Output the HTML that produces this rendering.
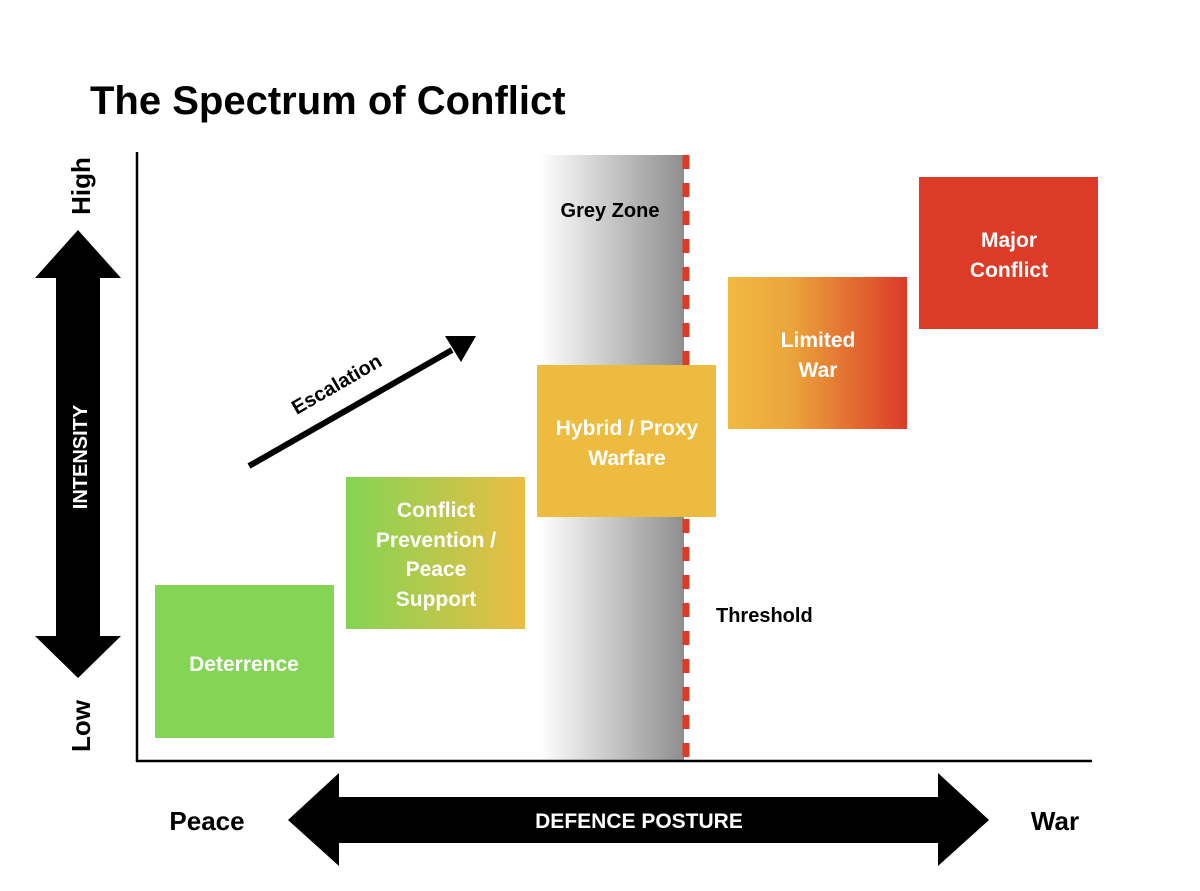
<!DOCTYPE html>
<html><head><meta charset="utf-8"><style>
html,body{margin:0;padding:0;background:#fff;}
svg{display:block;}
text{font-family:"Liberation Sans",Arial,sans-serif;font-weight:bold;}
</style></head><body>
<svg width="1200" height="891" viewBox="0 0 1200 891" xmlns="http://www.w3.org/2000/svg">
<defs>
<linearGradient id="grey" x1="0" x2="1" y1="0" y2="0">
<stop offset="0" stop-color="#ffffff"/><stop offset="1" stop-color="#8e8e8e"/></linearGradient>
<linearGradient id="g2" x1="0" x2="1" y1="0" y2="0">
<stop offset="0" stop-color="#84d455"/><stop offset="1" stop-color="#ebbd42"/></linearGradient>
<linearGradient id="g4" x1="0" x2="1" y1="0" y2="0">
<stop offset="0" stop-color="#f0ba40"/><stop offset="0.35" stop-color="#eba53c"/><stop offset="1" stop-color="#dc3a28"/></linearGradient>
</defs>
<rect width="1200" height="891" fill="#fff"/>
<text x="90" y="114" font-size="40" fill="#000">The Spectrum of Conflict</text>

<!-- grey zone -->
<rect x="540" y="155" width="144" height="605" fill="url(#grey)"/>
<line x1="686" y1="155" x2="686" y2="760" stroke="#dd3a2a" stroke-width="7" stroke-dasharray="14 14"/>
<text x="610" y="217" font-size="20" text-anchor="middle" fill="#000">Grey Zone</text>
<text x="716" y="622" font-size="20" fill="#000">Threshold</text>

<!-- axes -->
<line x1="137" y1="152" x2="137" y2="762" stroke="#000" stroke-width="2.5"/>
<line x1="136" y1="761" x2="1092" y2="761" stroke="#000" stroke-width="2.5"/>

<!-- vertical arrow -->
<polygon points="78,230 121,278 100,278 100,636 121,636 78,678 35,636 56,636 56,278 35,278" fill="#000"/>
<text transform="translate(87,457) rotate(-90)" font-size="20" fill="#fff" text-anchor="middle">INTENSITY</text>
<text transform="translate(90,186) rotate(-90)" font-size="26" fill="#000" text-anchor="middle">High</text>
<text transform="translate(90,726) rotate(-90)" font-size="26" fill="#000" text-anchor="middle">Low</text>

<!-- horizontal arrow -->
<polygon points="288,820 339,773 339,797 938,797 938,773 989,820 938,866 938,843 339,843 339,866" fill="#000"/>
<text x="639" y="828" font-size="21" fill="#fff" text-anchor="middle">DEFENCE POSTURE</text>
<text x="207" y="830" font-size="26" fill="#000" text-anchor="middle">Peace</text>
<text x="1055" y="830" font-size="26" fill="#000" text-anchor="middle">War</text>

<!-- escalation arrow -->
<line x1="249" y1="466" x2="452" y2="350" stroke="#000" stroke-width="6"/>
<polygon points="476,336 445,336 461,362" fill="#000"/>
<text transform="translate(340,390) rotate(-30)" font-size="20" fill="#000" text-anchor="middle">Escalation</text>

<!-- boxes -->
<rect x="155" y="585" width="179" height="153" fill="#84d455"/>
<text x="244" y="671" font-size="21" fill="#fff" text-anchor="middle">Deterrence</text>

<rect x="346" y="477" width="179" height="152" fill="url(#g2)"/>
<g font-size="21" fill="#fff" text-anchor="middle">
<text x="436" y="517">Conflict</text>
<text x="436" y="547">Prevention /</text>
<text x="436" y="576">Peace</text>
<text x="436" y="606">Support</text>
</g>

<rect x="537" y="365" width="179" height="152" fill="#ecbb3f"/>
<text x="627" y="435" font-size="21" fill="#fff" text-anchor="middle">Hybrid / Proxy</text>
<text x="627" y="465" font-size="21" fill="#fff" text-anchor="middle">Warfare</text>

<rect x="728" y="277" width="179" height="152" fill="url(#g4)"/>
<text x="818" y="347" font-size="21" fill="#fff" text-anchor="middle">Limited</text>
<text x="818" y="377" font-size="21" fill="#fff" text-anchor="middle">War</text>

<rect x="919" y="177" width="179" height="152" fill="#dc3b28"/>
<text x="1009" y="247" font-size="21" fill="#fff" text-anchor="middle">Major</text>
<text x="1009" y="277" font-size="21" fill="#fff" text-anchor="middle">Conflict</text>
</svg>
</body></html>
